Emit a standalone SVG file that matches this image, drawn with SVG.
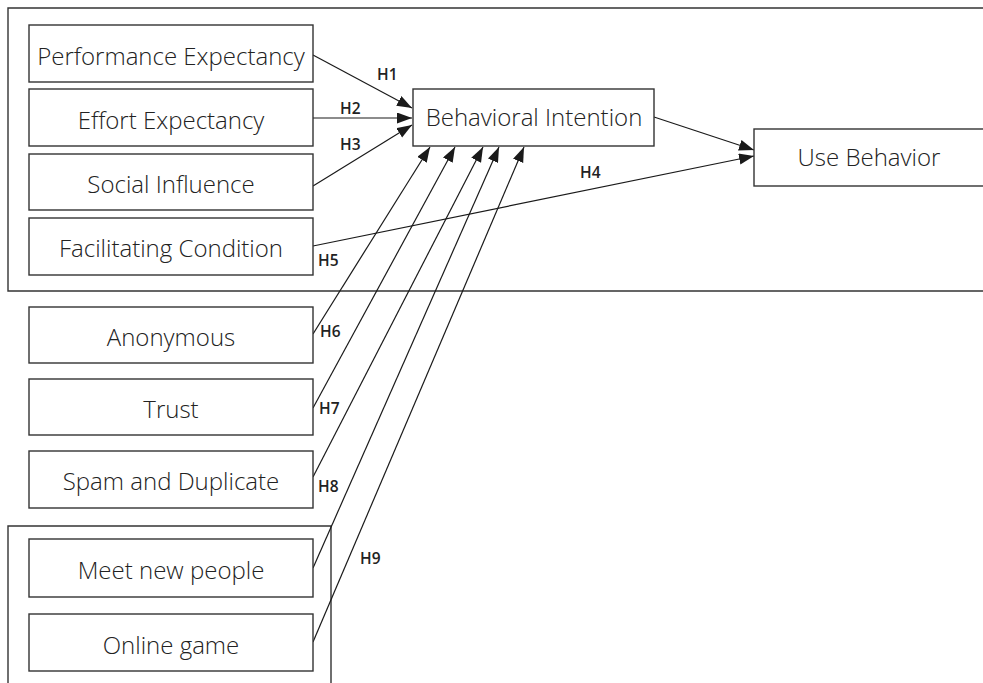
<svg xmlns="http://www.w3.org/2000/svg" width="983" height="683" viewBox="0 0 983 683">
  <style>
    .frame { fill: none; stroke: #333; stroke-width: 1.4; }
    .box { fill: #fff; stroke: #333; stroke-width: 1.4; }
    .lbl { font-family: "Open Sans", "Noto Sans", sans-serif; font-size: 24px; font-weight: 300; fill: #222; text-anchor: middle; }
    .hyp { font-family: "Open Sans", "Noto Sans", sans-serif; font-size: 15.5px; font-weight: 600; fill: #222; }
    .conn { fill: none; stroke: #1a1a1a; stroke-width: 1.2; marker-end: url(#arrow); }
  </style>
  <defs>
    <marker id="arrow" markerUnits="userSpaceOnUse" markerWidth="16" markerHeight="12" refX="15" refY="5.5" orient="auto">
      <path d="M0,0 L15,5.5 L0,11 z" fill="#1a1a1a"/>
    </marker>
  </defs>
  <rect width="983" height="683" fill="#fff"/>

  <!-- grouping frames -->
  <g id="frames">
    <path class="frame" d="M990,8 H8 V291 H990"/>
    <path class="frame" d="M8,690 V526 H331 V690"/>
  </g>

  <!-- connectors -->
  <g id="connectors">
    <line class="conn" x1="313" y1="55" x2="412" y2="108"/>
    <line class="conn" x1="313" y1="118" x2="412" y2="118"/>
    <line class="conn" x1="313" y1="186" x2="412" y2="125"/>
    <line class="conn" x1="313" y1="246" x2="754" y2="156"/>
    <line class="conn" x1="654" y1="117" x2="754" y2="150"/>
    <line class="conn" x1="313" y1="334" x2="430" y2="147"/>
    <line class="conn" x1="313" y1="408" x2="455" y2="147"/>
    <line class="conn" x1="313" y1="477" x2="483" y2="147"/>
    <line class="conn" x1="313" y1="568" x2="499" y2="147"/>
    <line class="conn" x1="313" y1="642" x2="524" y2="147"/>
  </g>

  <!-- hypothesis labels -->
  <g id="labels">
    <text class="hyp" x="377" y="80">H1</text>
    <text class="hyp" x="340" y="114">H2</text>
    <text class="hyp" x="340" y="150">H3</text>
    <text class="hyp" x="580" y="178">H4</text>
    <text class="hyp" x="318" y="266">H5</text>
    <text class="hyp" x="320" y="337">H6</text>
    <text class="hyp" x="319" y="414">H7</text>
    <text class="hyp" x="318" y="492">H8</text>
    <text class="hyp" x="360" y="564">H9</text>
  </g>

  <g id="performance-expectancy">
    <rect class="box" x="29" y="25" width="284" height="57"/>
    <text class="lbl" x="171" y="65">Performance Expectancy</text>
  </g>
  <g id="effort-expectancy">
    <rect class="box" x="29" y="89" width="284" height="57"/>
    <text class="lbl" x="171" y="129">Effort Expectancy</text>
  </g>
  <g id="social-influence">
    <rect class="box" x="29" y="154" width="284" height="56"/>
    <text class="lbl" x="171" y="193">Social Influence</text>
  </g>
  <g id="facilitating-condition">
    <rect class="box" x="29" y="218" width="284" height="57"/>
    <text class="lbl" x="171" y="257">Facilitating Condition</text>
  </g>
  <g id="anonymous">
    <rect class="box" x="29" y="307" width="284" height="56"/>
    <text class="lbl" x="171" y="346">Anonymous</text>
  </g>
  <g id="trust">
    <rect class="box" x="29" y="379" width="284" height="56"/>
    <text class="lbl" x="171" y="418">Trust</text>
  </g>
  <g id="spam-and-duplicate">
    <rect class="box" x="29" y="451" width="284" height="57"/>
    <text class="lbl" x="171" y="490">Spam and Duplicate</text>
  </g>
  <g id="meet-new-people">
    <rect class="box" x="29" y="539" width="284" height="58"/>
    <text class="lbl" x="171" y="579">Meet new people</text>
  </g>
  <g id="online-game">
    <rect class="box" x="29" y="614" width="284" height="57"/>
    <text class="lbl" x="171" y="654">Online game</text>
  </g>
  <g id="behavioral-intention">
    <rect class="box" x="413" y="89" width="241" height="57"/>
    <text class="lbl" x="534" y="126">Behavioral Intention</text>
  </g>
  <g id="use-behavior">
    <rect class="box" x="754" y="129" width="240" height="57"/>
    <text class="lbl" x="869" y="166">Use Behavior</text>
  </g>
</svg>
